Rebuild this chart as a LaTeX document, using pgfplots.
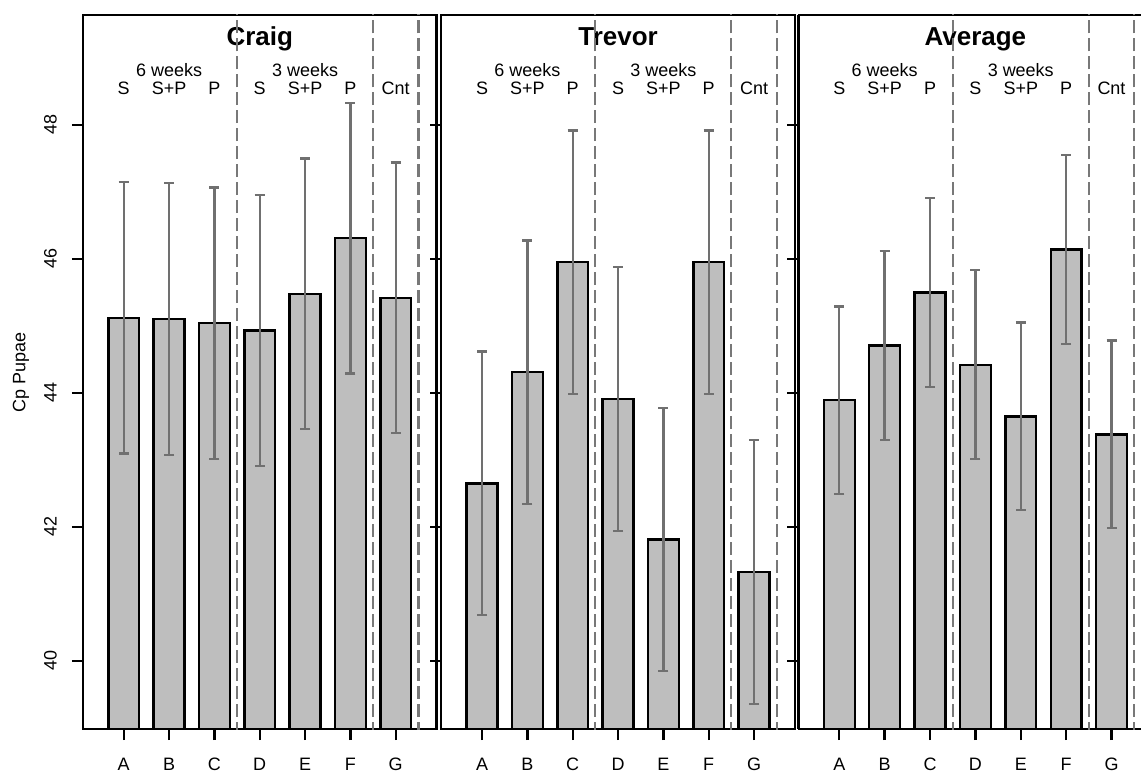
\documentclass[border=0pt]{standalone}
\usepackage{fontspec}
\setmainfont{Liberation Sans}
\usepackage{pgfplots}
\usepackage{pgfplotstable}
\pgfplotsset{compat=1.18}
\definecolor{barfill}{RGB}{190,190,190}
\definecolor{errgray}{RGB}{112,112,112}
\definecolor{dashgray}{RGB}{120,120,120}
\newcommand{\fs}{\fontsize{18}{21}\selectfont}
\newcommand{\ft}{\fontsize{26}{30}\selectfont\bfseries}

\pgfplotstableread{
x y e
0 45.12 2.025
1 45.10 2.03
2 45.04 2.025
3 44.93 2.02
4 45.48 2.02
5 46.31 2.02
6 45.42 2.02
}\craig
\pgfplotstableread{
x y e
0 42.65 1.965
1 44.31 1.965
2 45.95 1.965
3 43.905 1.97
4 41.81 1.96
5 45.95 1.965
6 41.33 1.97
}\trevor
\pgfplotstableread{
x y e
0 43.89 1.40
1 44.71 1.41
2 45.50 1.41
3 44.42 1.41
4 43.65 1.40
5 46.14 1.41
6 43.38 1.40
}\average

\pgfplotsset{
 panel/.style={
  scale only axis, width=354pt, height=715pt,
  xmin=-0.9, xmax=6.9, ymin=38.98, ymax=49.64,
  anchor=south west,
  axis line style={line width=2.4pt},
  tick style={line width=2.4pt, black},
  tick align=outside, major tick length=11pt,
  xtick={0,...,6}, xticklabels={A,B,C,D,E,F,G},
  xtick pos=bottom, ytick pos=left,
  ytick={40,42,44,46,48},
  tick label style={font=\fs},
  /pgf/number format/assume math mode=true,
  yticklabel style={rotate=90, anchor=south, inner sep=0pt},
  xticklabel style={anchor=base, inner sep=0pt},
 },
 bars/.style={ybar, bar width=0.68, fill=barfill, draw=black, line width=2.4pt,
  error bars/.cd, y dir=both, y explicit,
  error bar style={draw=errgray, line width=2.4pt},
  error mark=|,
  error mark options={draw=errgray, mark size=5pt, line width=2.4pt}},
 dash/.style={dashgray, line width=2.2pt, dash pattern=on 13pt off 5pt, forget plot},
}

\newcommand{\panellabels}[1]{%
 \node[font=\ft, anchor=base] at (axis cs:3,49.19) {#1};
 \node[font=\fs, anchor=base] at (axis cs:1,48.72) {6 weeks};
 \node[font=\fs, anchor=base] at (axis cs:4,48.72) {3 weeks};
 \node[font=\fs, anchor=base] at (axis cs:0,48.447) {S};
 \node[font=\fs, anchor=base] at (axis cs:1,48.447) {S+P};
 \node[font=\fs, anchor=base] at (axis cs:2,48.447) {P};
 \node[font=\fs, anchor=base] at (axis cs:3,48.447) {S};
 \node[font=\fs, anchor=base] at (axis cs:4,48.447) {S+P};
 \node[font=\fs, anchor=base] at (axis cs:5,48.447) {P};
 \node[font=\fs, anchor=base] at (axis cs:6,48.447) {Cnt};
 \addplot[dash] coordinates {(2.5,38.9) (2.5,49.7)};
 \addplot[dash] coordinates {(5.5,38.9) (5.5,49.7)};
 \addplot[dash] coordinates {(6.5,38.9) (6.5,49.7)};
}

\begin{document}
\begin{tikzpicture}
\path (0pt,0pt) rectangle (1142pt,774pt);
\begin{axis}[panel, at={(83pt,44pt)}, yticklabel shift=15pt, xticklabel shift=30pt]
 \addplot[bars] table[x=x, y=y, y error=e] {\craig};
 \panellabels{Craig}
\end{axis}
\begin{axis}[panel, at={(441.7pt,44pt)}, yticklabels={}, xticklabel shift=30pt]
 \addplot[bars] table[x=x, y=y, y error=e] {\trevor};
 \panellabels{Trevor}
\end{axis}
\begin{axis}[panel, at={(799.3pt,44pt)}, yticklabels={}, xticklabel shift=30pt,
  width=342.7pt, xmax=6.646, axis x line*=box, axis y line*=left]
 \addplot[bars] table[x=x, y=y, y error=e] {\average};
 \panellabels{Average}
\end{axis}
\node[rotate=90, font=\fs] at (21pt,401pt) {Cp Pupae};
\end{tikzpicture}
\end{document}
